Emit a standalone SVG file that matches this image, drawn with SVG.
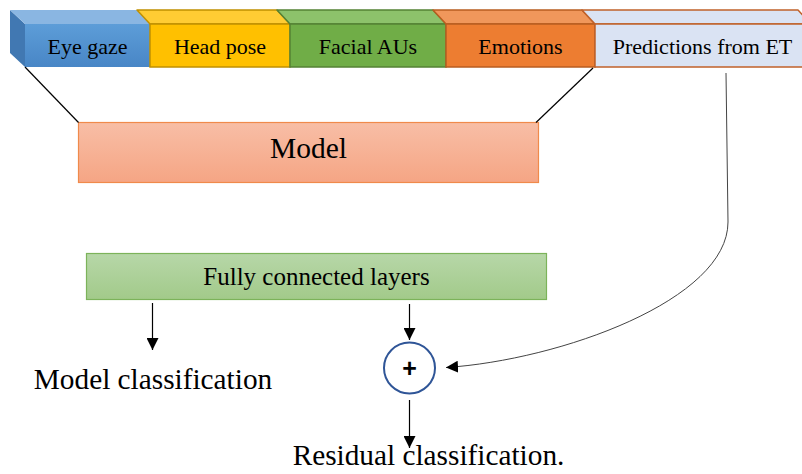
<svg xmlns="http://www.w3.org/2000/svg" width="802" height="474" viewBox="0 0 802 474">
  <defs>
    <style>
      .lbl { font-family: "Liberation Serif", "Times New Roman", serif; fill: #000; text-anchor: middle; }
      .conn { stroke: #000; stroke-width: 1.2; fill: none; }
      .thin { stroke: #444; stroke-width: 1; fill: none; }
    </style>
    <linearGradient id="gBlue" x1="0" y1="0" x2="0" y2="1">
      <stop offset="0" stop-color="#5d9dd8"/>
      <stop offset="1" stop-color="#4886c6"/>
    </linearGradient>
    <linearGradient id="gModel" x1="0" y1="0" x2="0" y2="1">
      <stop offset="0" stop-color="#f8bea6"/>
      <stop offset="1" stop-color="#f5a584"/>
    </linearGradient>
    <linearGradient id="gFc" x1="0" y1="0" x2="0" y2="1">
      <stop offset="0" stop-color="#b7d7a8"/>
      <stop offset="1" stop-color="#a2ca8a"/>
    </linearGradient>
    <marker id="arrow" markerUnits="userSpaceOnUse" markerWidth="12" markerHeight="12" viewBox="0 0 12 12" refX="12" refY="6" orient="auto">
      <path d="M0,0 L12,6 L0,12 Z" fill="#000"/>
    </marker>
  </defs>

  <rect width="802" height="474" fill="#fff"/>

  <!-- input feature blocks (3D bars) -->
  <g id="eye-gaze">
    <polygon points="10,10 25,24 25,67 10,53" fill="#4178b2"/>
    <polygon points="10,10 137,10 150,24 25,24" fill="#8ab6e2"/>
    <rect x="25" y="24" width="125" height="43" fill="url(#gBlue)"/>
    <text class="lbl" x="87.5" y="54" font-size="22">Eye gaze</text>
  </g>
  <g id="head-pose">
    <polygon points="137,10 277,10 290,24 150,24" fill="#ffcc33" stroke="#c09000" stroke-width="1.5" stroke-linejoin="round"/>
    <rect x="150" y="24" width="140" height="43" fill="#ffc000" stroke="#c09000" stroke-width="1.5"/>
    <text class="lbl" x="220" y="54" font-size="22">Head pose</text>
  </g>
  <g id="facial-aus">
    <polygon points="277,10 433,10 446,24 290,24" fill="#8dc26b" stroke="#548235" stroke-width="1.5" stroke-linejoin="round"/>
    <rect x="290" y="24" width="156" height="43" fill="#70ad47" stroke="#548235" stroke-width="1.5"/>
    <text class="lbl" x="368" y="54" font-size="22">Facial AUs</text>
  </g>
  <g id="emotions">
    <polygon points="433,10 582,10 595,24 446,24" fill="#f0975b" stroke="#b85d20" stroke-width="1.5" stroke-linejoin="round"/>
    <rect x="446" y="24" width="149" height="43" fill="#ed7d31" stroke="#b85d20" stroke-width="1.5"/>
    <text class="lbl" x="520.5" y="54" font-size="22">Emotions</text>
  </g>
  <g id="predictions-et">
    <polygon points="582,10 798,10 811,24 595,24" fill="#dae3f3" stroke="#c0612a" stroke-width="1.5" stroke-linejoin="round"/>
    <rect x="595" y="24" width="216" height="43" fill="#dae3f3" stroke="#c0612a" stroke-width="1.5"/>
    <text class="lbl" x="702.5" y="54" font-size="22">Predictions from ET</text>
  </g>

  <!-- model -->
  <g id="model">
    <rect x="78.5" y="122.5" width="460" height="60" fill="url(#gModel)" stroke="#f08a4b" stroke-width="1.2"/>
    <text class="lbl" x="308.5" y="158" font-size="29.5">Model</text>
  </g>

  <!-- fully connected layers -->
  <g id="fc-layers">
    <rect x="86.5" y="253.5" width="460" height="46" fill="url(#gFc)" stroke="#7cb35a" stroke-width="1.2"/>
    <text class="lbl" x="316.5" y="285" font-size="25">Fully connected layers</text>
  </g>

  <!-- residual sum -->
  <g id="sum">
    <circle cx="409.5" cy="368" r="25.5" fill="#fff" stroke="#2f5597" stroke-width="2"/>
    <text x="409.5" y="377" font-family="Liberation Sans, Arial, sans-serif" font-size="25" font-weight="bold" text-anchor="middle" fill="#000">+</text>
  </g>

  <!-- outputs -->
  <g id="model-classification">
    <text class="lbl" x="153" y="389" font-size="29.3">Model classification</text>
  </g>
  <g id="residual-classification">
    <text class="lbl" x="428.5" y="465" font-size="29.3">Residual classification.</text>
  </g>

  <!-- connectors -->
  <g id="connectors">
    <line class="conn" x1="25" y1="67" x2="78.5" y2="122.5"/>
    <line class="conn" x1="593" y1="68" x2="536" y2="122.5"/>
    <line class="conn" x1="152.5" y1="303" x2="152.5" y2="350" marker-end="url(#arrow)"/>
    <line class="conn" x1="409.5" y1="304" x2="409.5" y2="340" marker-end="url(#arrow)"/>
    <line class="conn" x1="409.5" y1="400" x2="409.5" y2="448" marker-end="url(#arrow)"/>
    <path class="thin" d="M726,73 L728,222 C728,300 560,360 446,367.5" marker-end="url(#arrow)"/>
  </g>
</svg>
